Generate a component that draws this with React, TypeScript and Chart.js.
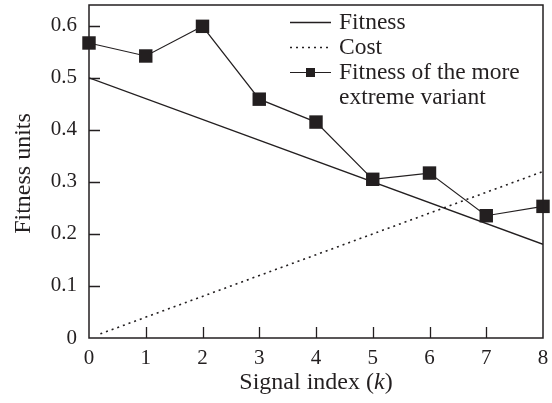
import React, { useEffect, useRef } from "react";
import { Chart, registerables } from "chart.js";

Chart.register(...registerables);

const signalIndex = [0, 1, 2, 3, 4, 5, 6, 7, 8];
const fitnessX = [0, 8];
const fitnessY = [0.5, 0.18];
const costX = [0.2, 8];
const costY = [0.008, 0.32];
const extremeY = [0.567, 0.542, 0.599, 0.459, 0.415, 0.305, 0.317, 0.235, 0.253];
const yTickValues = [0, 0.1, 0.2, 0.3, 0.4, 0.5, 0.6];
const xTickValues = [0, 1, 2, 3, 4, 5, 6, 7, 8];
const legendLabels = ["Fitness", "Cost", ["Fitness of the more", "extreme variant"]];

const INK = "#231f20";
const SERIF = "'Liberation Serif', 'Times New Roman', serif";

const decorPlugin = {
  id: "decor",
  afterDraw(chart: any) {
    const { ctx, chartArea } = chart;
    const xs = chart.scales.x;
    const ys = chart.scales.y;
    ctx.save();
    ctx.strokeStyle = INK;
    ctx.lineWidth = 1.5;
    ctx.strokeRect(chartArea.left, chartArea.top, chartArea.right - chartArea.left, chartArea.bottom - chartArea.top);
    // inward ticks
    ctx.lineWidth = 1.3;
    ctx.beginPath();
    yTickValues.forEach((v) => {
      if (v === 0) return;
      const py = Math.round(ys.getPixelForValue(v)) + 0.5;
      ctx.moveTo(chartArea.left, py);
      ctx.lineTo(chartArea.left + 11, py);
    });
    xTickValues.forEach((v) => {
      if (v === 0 || v === 8) return;
      const px = Math.round(xs.getPixelForValue(v)) + 0.5;
      ctx.moveTo(px, chartArea.bottom);
      ctx.lineTo(px, chartArea.bottom - 11);
    });
    ctx.stroke();

    // axis titles
    ctx.fillStyle = INK;
    ctx.textBaseline = "middle";
    const tFont = "24px " + SERIF;
    const tItal = "italic 24px " + SERIF;
    ctx.font = tFont;
    const p1 = "Signal index (";
    const p3 = ")";
    const w1 = ctx.measureText(p1).width;
    const w3 = ctx.measureText(p3).width;
    ctx.font = tItal;
    const w2 = ctx.measureText("k").width;
    const total = w1 + w2 + w3;
    const cx = (chartArea.left + chartArea.right) / 2;
    const sx = cx - total / 2;
    const ty = 383;
    ctx.textAlign = "left";
    ctx.font = tFont;
    ctx.fillText(p1, sx, ty);
    ctx.font = tItal;
    ctx.fillText("k", sx + w1, ty);
    ctx.font = tFont;
    ctx.fillText(p3, sx + w1 + w2, ty);

    ctx.save();
    ctx.translate(24, (chartArea.top + chartArea.bottom) / 2 + 2);
    ctx.rotate(-Math.PI / 2);
    ctx.textAlign = "center";
    ctx.font = tFont;
    ctx.fillText("Fitness units", 0, 0);
    ctx.restore();

    // legend
    const lx0 = 290;
    const lx1 = 331;
    const textX = 339;
    const rows = [22, 47, 72];
    ctx.font = "23.5px " + SERIF;
    ctx.textAlign = "left";
    chart.data.datasets.forEach((ds: any, i: number) => {
      const y = rows[i];
      ctx.save();
      ctx.strokeStyle = ds.borderColor;
      ctx.lineWidth = ds.borderWidth;
      ctx.setLineDash(ds.borderDash || []);
      ctx.beginPath();
      ctx.moveTo(lx0, y + 0.5);
      ctx.lineTo(lx1, y + 0.5);
      ctx.stroke();
      ctx.restore();
      if (ds.pointRadius > 0) {
        ctx.fillStyle = ds.pointBackgroundColor;
        const s = 9;
        ctx.fillRect((lx0 + lx1) / 2 - s / 2, y + 0.5 - s / 2, s, s);
      }
      ctx.fillStyle = INK;
      const lab = legendLabels[i];
      const lines = Array.isArray(lab) ? lab : [lab];
      lines.forEach((t: string, j: number) => ctx.fillText(t, textX, y + 1 + j * 25));
    });
    ctx.restore();
  },
};

export default function App() {
  const ref = useRef<HTMLCanvasElement>(null);
  useEffect(() => {
    if (!ref.current) return;
    const chart = new Chart(ref.current, {
      type: "line",
      data: {
        datasets: [
          {
            label: "Fitness",
            data: fitnessX.map((x, i) => ({ x, y: fitnessY[i] })),
            borderColor: INK,
            borderWidth: 1.4,
            pointRadius: 0,
            fill: false,
          },
          {
            label: "Cost",
            data: costX.map((x, i) => ({ x, y: costY[i] })),
            borderColor: INK,
            borderWidth: 1.6,
            borderDash: [2, 4],
            pointRadius: 0,
            fill: false,
          },
          {
            label: "Fitness of the more extreme variant",
            data: signalIndex.map((x, i) => ({ x, y: extremeY[i] })),
            borderColor: INK,
            borderWidth: 1.2,
            pointStyle: "rect",
            pointRadius: 9.5,
            pointBorderWidth: 0,
            pointBackgroundColor: INK,
            pointBorderColor: INK,
            fill: false,
            clip: false,
          },
        ] as any,
      },
      options: {
        animation: false,
        responsive: false,
        layout: { autoPadding: false, padding: { top: 5, right: 9, left: 0, bottom: 0 } },
        plugins: { legend: { display: false }, tooltip: { enabled: false } },
        scales: {
          x: {
            type: "linear",
            min: 0,
            max: 8,
            grid: { display: false, drawTicks: false },
            border: { display: false },
            afterBuildTicks: (s: any) => {
              s.ticks = xTickValues.map((v) => ({ value: v }));
            },
            afterFit: (s: any) => {
              s.height = 65;
              s.paddingLeft = 0;
              s.paddingRight = 0;
            },
            ticks: {
              color: INK,
              padding: 8,
              maxRotation: 0,
              autoSkip: false,
              font: { family: SERIF, size: 21 },
              callback: (v: any) => String(v),
            },
          },
          y: {
            type: "linear",
            min: 0,
            max: 0.64,
            grid: { display: false, drawTicks: false },
            border: { display: false },
            afterBuildTicks: (s: any) => {
              s.ticks = yTickValues.map((v) => ({ value: v }));
            },
            afterFit: (s: any) => {
              s.width = 89;
              s.paddingTop = 0;
              s.paddingBottom = 0;
            },
            ticks: {
              color: INK,
              padding: 12,
              autoSkip: false,
              font: { family: SERIF, size: 21 },
              callback: (v: any) => (v === 0 ? "0" : Number(v).toFixed(1)),
            },
          },
        },
      },
      plugins: [decorPlugin],
    });
    return () => chart.destroy();
  }, []);
  return (
    <div style={{ position: "absolute", left: 0, top: 0, width: 552, height: 403, background: "#fff" }}>
      <canvas ref={ref} width={552} height={403} style={{ display: "block" }} />
    </div>
  );
}
